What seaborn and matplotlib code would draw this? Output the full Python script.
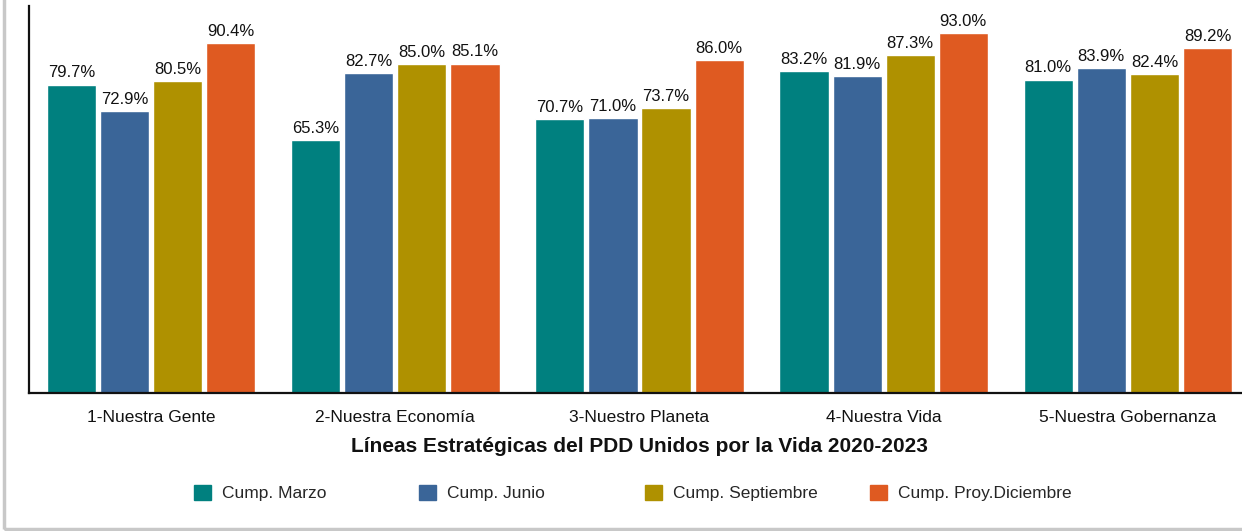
import pandas as pd
import seaborn as sns
import matplotlib.pyplot as plt
from matplotlib.patches import Rectangle

lineas = ['1-Nuestra Gente', '2-Nuestra Economía', '3-Nuestro Planeta',
          '4-Nuestra Vida', '5-Nuestra Gobernanza']
periodos = ['Cump. Marzo', 'Cump. Junio', 'Cump. Septiembre', 'Cump. Proy.Diciembre']
marzo = [79.7, 65.3, 70.7, 83.2, 81.0]
junio = [72.9, 82.7, 71.0, 81.9, 83.9]
septiembre = [80.5, 85.0, 73.7, 87.3, 82.4]
diciembre = [90.4, 85.1, 86.0, 93.0, 89.2]
colores = ['#00807F', '#3A6598', '#AF9100', '#DF5A21']

df = pd.DataFrame({
    'linea': lineas * 4,
    'periodo': [p for p in periodos for _ in lineas],
    'valor': marzo + junio + septiembre + diciembre,
})

sns.set_style('white')
plt.rcParams['font.family'] = ['Liberation Sans', 'DejaVu Sans']

fig = plt.figure(figsize=(12.42, 5.31), dpi=100)
ax = fig.add_axes([29 / 1242, 138 / 531, 1221 / 1242, 387 / 531])

sns.barplot(data=df, x='linea', y='valor', hue='periodo', palette=colores,
            width=0.87, gap=0.075, saturation=1, ax=ax, legend=False)

for cont in ax.containers:
    ax.bar_label(cont, fmt='%.1f%%', padding=3, fontsize=12, color='#111111')

ax.set_ylim(0, 100)
ax.set_xlim(-0.5, 4.5)
ax.set_yticks([])
ax.set_ylabel('')
ax.tick_params(axis='x', length=0, labelsize=12.5, pad=12, colors='#111111')
ax.set_xlabel('Líneas Estratégicas del PDD Unidos por la Vida 2020-2023',
              fontsize=15, fontweight='bold', labelpad=9, color='#111111')
for s in ['top', 'right']:
    ax.spines[s].set_visible(False)
for s in ['left', 'bottom']:
    ax.spines[s].set_color('#111111')
    ax.spines[s].set_linewidth(1.6)

# leyenda: una entrada por posición
xs_leyenda = [194, 419, 645, 870]
for c, lab, xp in zip(colores, periodos, xs_leyenda):
    fig.legend([Rectangle((0, 0), 1, 1, color=c)], [lab], loc='center left',
               bbox_to_anchor=(xp / 1242, 1 - 493 / 531), frameon=False,
               fontsize=12.5, handlelength=1.0, handleheight=1.0,
               handletextpad=0.6, borderpad=0, borderaxespad=0)

# marco gris de la imagen
fig.patches.append(Rectangle((4 / 1242, 2 / 531), 1.2, 1.2, transform=fig.transFigure,
                             fill=False, edgecolor='#c8c8c8', linewidth=2.5))

fig.savefig('out.png', dpi=100)
